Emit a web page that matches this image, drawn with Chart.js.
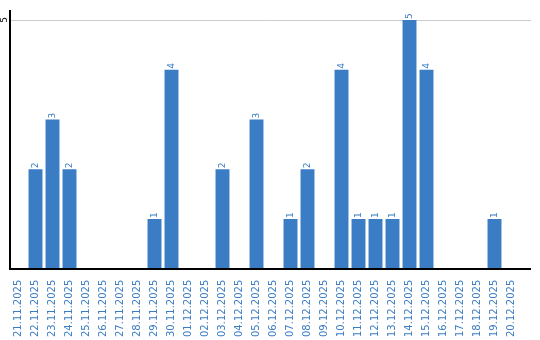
<!DOCTYPE html>
<html>
<head>
<meta charset="utf-8">
<script src="https://cdn.jsdelivr.net/npm/chart.js@4/dist/chart.umd.min.js"></script>
<style>
  html, body { margin: 0; padding: 0; background: #fff; }
  #wrap { width: 540px; height: 340px; }
</style>
</head>
<body>
<div id="wrap"><canvas id="c" width="540" height="340"></canvas></div>
<script>
const labels = [
  "21.11.2025", "22.11.2025", "23.11.2025", "24.11.2025", "25.11.2025",
  "26.11.2025", "27.11.2025", "28.11.2025", "29.11.2025", "30.11.2025",
  "01.12.2025", "02.12.2025", "03.12.2025", "04.12.2025", "05.12.2025",
  "06.12.2025", "07.12.2025", "08.12.2025", "09.12.2025", "10.12.2025",
  "11.12.2025", "12.12.2025", "13.12.2025", "14.12.2025", "15.12.2025",
  "16.12.2025", "17.12.2025", "18.12.2025", "19.12.2025", "20.12.2025"
];
const counts = [0, 2, 3, 2, 0, 0, 0, 0, 1, 4, 0, 0, 2, 0, 3, 0, 1, 2, 0, 4, 1, 1, 1, 5, 4, 0, 0, 0, 1, 0];
const yTicks = [5];

const blue = "#3b7dc4";
const fontFamily = "'DejaVu Sans', Verdana, sans-serif";
const axisEnd = 531;

// value labels on top of bars, rotated
const barLabels = {
  id: "barLabels",
  afterDatasetsDraw(chart) {
    const ctx = chart.ctx;
    const meta = chart.getDatasetMeta(0);
    ctx.save();
    ctx.font = "9px " + fontFamily;
    ctx.fillStyle = blue;
    ctx.textAlign = "left";
    ctx.textBaseline = "middle";
    meta.data.forEach((bar, i) => {
      if (!counts[i]) return;
      ctx.save();
      ctx.translate(bar.x, bar.y - 1);
      ctx.rotate(-Math.PI / 2);
      ctx.fillText(String(counts[i]), 0, 0);
      ctx.restore();
    });
    ctx.restore();
  }
};

// axes, gridline and rotated y labels (lines run a bit past the last category)
const axes = {
  id: "axes",
  beforeDatasetsDraw(chart) {
    const ctx = chart.ctx;
    const y = chart.scales.y;
    const area = chart.chartArea;
    ctx.save();
    ctx.strokeStyle = "#cccccc";
    ctx.lineWidth = 1;
    yTicks.forEach(v => {
      const py = Math.round(y.getPixelForValue(v)) + 0.5;
      ctx.beginPath();
      ctx.moveTo(area.left, py);
      ctx.lineTo(axisEnd, py);
      ctx.stroke();
    });
    ctx.restore();
  },
  afterDraw(chart) {
    const ctx = chart.ctx;
    const y = chart.scales.y;
    const area = chart.chartArea;
    const x0 = Math.round(area.left);
    const y0 = Math.round(area.bottom);
    ctx.save();
    ctx.strokeStyle = "#000";
    ctx.lineWidth = 2;
    ctx.beginPath();
    ctx.moveTo(x0, Math.round(area.top));
    ctx.lineTo(x0, y0);
    ctx.lineTo(axisEnd, y0);
    ctx.stroke();
    ctx.font = "9px " + fontFamily;
    ctx.fillStyle = "#000";
    ctx.textAlign = "center";
    ctx.textBaseline = "middle";
    yTicks.forEach(v => {
      ctx.save();
      ctx.translate(x0 - 5, y.getPixelForValue(v));
      ctx.rotate(-Math.PI / 2);
      ctx.fillText(String(v), 0, 0);
      ctx.restore();
    });
    ctx.restore();
  }
};

new Chart(document.getElementById("c").getContext("2d"), {
  type: "bar",
  data: {
    labels,
    datasets: [{
      data: counts,
      backgroundColor: blue,
      borderWidth: 0,
      barPercentage: 0.82,
      categoryPercentage: 1
    }]
  },
  options: {
    responsive: false,
    animation: false,
    layout: { padding: { top: 10, right: 20, left: 0, bottom: 0 } },
    plugins: { legend: { display: false }, tooltip: { enabled: false } },
    scales: {
      x: {
        grid: { display: false },
        border: { display: false },
        ticks: {
          color: blue,
          font: { family: fontFamily, size: 10 },
          minRotation: 90,
          maxRotation: 90,
          autoSkip: false,
          padding: 3
        }
      },
      y: {
        min: 0,
        max: 5.2,
        afterFit(scale) { scale.width = 10; },
        grid: { display: false },
        border: { display: false },
        ticks: { display: false }
      }
    }
  },
  plugins: [barLabels, axes]
});
</script>
</body>
</html>
